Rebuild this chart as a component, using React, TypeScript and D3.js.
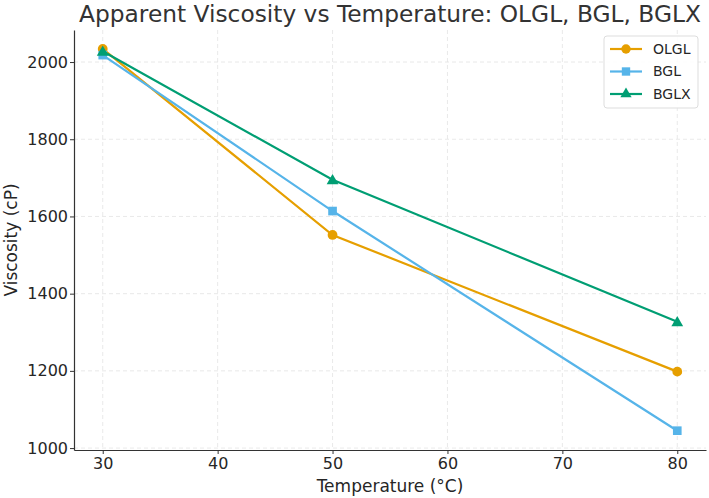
import React, { useRef, useEffect } from "react";
import * as d3 from "d3";

const temperatures = [30, 50, 80];
const olgl = [2034, 1552, 1198];
const bgl = [2018, 1614, 1045];
const bglx = [2028, 1695, 1327];
const xTicks = [30, 40, 50, 60, 70, 80];
const yTicks = [1000, 1200, 1400, 1600, 1800, 2000];

const series = [
  { name: "OLGL", values: olgl, color: "#E69F00", marker: "circle" },
  { name: "BGL", values: bgl, color: "#56B4E9", marker: "square" },
  { name: "BGLX", values: bglx, color: "#009E73", marker: "triangle" },
];

const App = () => {
  const svgRef = useRef<SVGSVGElement>(null);

  useEffect(() => {
    const svg = d3.select(svgRef.current);
    const width = 709;
    const height = 498;
    const margin = { top: 30, right: 3, bottom: 48, left: 74 };
    const font = "DejaVu Sans, sans-serif";

    svg.selectAll("*").remove();

    const x = d3
      .scaleLinear()
      .domain([27.5, 82.5])
      .range([margin.left, width - margin.right]);

    const y = d3
      .scaleLinear()
      .domain([995, 2083])
      .range([height - margin.bottom, margin.top]);

    // grid
    const grid = svg.append("g").attr("class", "grid");
    grid
      .selectAll("line.gx")
      .data(xTicks)
      .join("line")
      .attr("x1", (d) => x(d))
      .attr("x2", (d) => x(d))
      .attr("y1", margin.top)
      .attr("y2", height - margin.bottom)
      .attr("stroke", "#e3e3e3")
      .attr("stroke-width", 0.8)
      .attr("stroke-dasharray", "4,3");
    grid
      .selectAll("line.gy")
      .data(yTicks)
      .join("line")
      .attr("x1", margin.left)
      .attr("x2", width - margin.right)
      .attr("y1", (d) => y(d))
      .attr("y2", (d) => y(d))
      .attr("stroke", "#e3e3e3")
      .attr("stroke-width", 0.8)
      .attr("stroke-dasharray", "4,3");

    // axes
    const xAxis = svg
      .append("g")
      .attr("transform", `translate(0,${height - margin.bottom})`)
      .call(d3.axisBottom(x).tickValues(xTicks).tickSize(4).tickSizeOuter(0));
    const yAxis = svg
      .append("g")
      .attr("transform", `translate(${margin.left},0)`)
      .call(d3.axisLeft(y).tickValues(yTicks).tickSize(4).tickSizeOuter(0).tickFormat(d3.format("d")));

    [xAxis, yAxis].forEach((g) => {
      g.select(".domain").attr("stroke", "#333").attr("stroke-width", 1.2);
      g.selectAll(".tick line").attr("stroke", "#333");
      g.selectAll(".tick text")
        .attr("font-family", font)
        .attr("font-size", 16)
        .attr("fill", "#262626");
    });
    xAxis.selectAll(".tick text").attr("y", 8).attr("dy", "0.71em");
    yAxis.selectAll(".tick text").attr("x", -6);

    // lines and markers
    const line = d3
      .line<number>()
      .x((_, i) => x(temperatures[i]))
      .y((d) => y(d));

    series.forEach((s) => {
      svg
        .append("path")
        .datum(s.values)
        .attr("fill", "none")
        .attr("stroke", s.color)
        .attr("stroke-width", 2.2)
        .attr("d", line);
      const symbol =
        s.marker === "circle" ? d3.symbolCircle : s.marker === "square" ? d3.symbolSquare : d3.symbolTriangle;
      svg
        .append("g")
        .selectAll("path")
        .data(s.values)
        .join("path")
        .attr("transform", (d, i) => `translate(${x(temperatures[i])},${y(d) + (s.marker === "triangle" ? 1 : 0)})`)
        .attr("d", d3.symbol().type(symbol).size(s.marker === "triangle" ? 60 : 75)())
        .attr("fill", s.color);
    });

    // title and axis labels
    svg
      .append("text")
      .attr("x", (margin.left + width - margin.right) / 2)
      .attr("y", 22)
      .attr("text-anchor", "middle")
      .attr("font-family", font)
      .attr("font-size", 23.3)
      .attr("fill", "#333")
      .text("Apparent Viscosity vs Temperature: OLGL, BGL, BGLX");

    svg
      .append("text")
      .attr("x", (margin.left + width - margin.right) / 2)
      .attr("y", 492)
      .attr("text-anchor", "middle")
      .attr("font-family", font)
      .attr("font-size", 17)
      .attr("fill", "#262626")
      .text("Temperature (°C)");

    svg
      .append("text")
      .attr("transform", `translate(17,${(margin.top + height - margin.bottom) / 2}) rotate(-90)`)
      .attr("text-anchor", "middle")
      .attr("font-family", font)
      .attr("font-size", 17)
      .attr("fill", "#262626")
      .text("Viscosity (cP)");

    // legend
    const legend = svg.append("g").attr("transform", "translate(604,36)");
    legend
      .append("rect")
      .attr("width", 94)
      .attr("height", 72)
      .attr("rx", 3)
      .attr("fill", "white")
      .attr("fill-opacity", 0.85)
      .attr("stroke", "#ddd");
    series.forEach((s, i) => {
      const cy = 13 + i * 22.5;
      const row = legend.append("g").attr("transform", `translate(0,${cy})`);
      row
        .append("line")
        .attr("x1", 6)
        .attr("x2", 38)
        .attr("stroke", s.color)
        .attr("stroke-width", 2.2);
      const symbol =
        s.marker === "circle" ? d3.symbolCircle : s.marker === "square" ? d3.symbolSquare : d3.symbolTriangle;
      row
        .append("path")
        .attr("transform", "translate(22,0)")
        .attr("d", d3.symbol().type(symbol).size(s.marker === "triangle" ? 55 : 70)())
        .attr("fill", s.color);
      row
        .append("text")
        .attr("x", 49)
        .attr("dy", "0.35em")
        .attr("font-family", font)
        .attr("font-size", 14)
        .attr("fill", "#262626")
        .text(s.name);
    });
  }, []);

  return <svg ref={svgRef} width="709" height="498" style={{ position: "absolute", left: 0, top: 0 }}></svg>;
};

export default App;
